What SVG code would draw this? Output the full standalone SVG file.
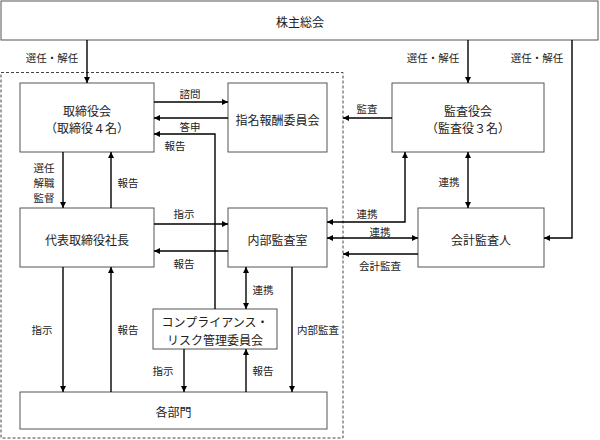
<svg xmlns="http://www.w3.org/2000/svg" width="600" height="440" viewBox="0 0 600 440">
<defs>
<marker id="ah" viewBox="0 0 10 10" refX="10" refY="5" markerWidth="6" markerHeight="6" markerUnits="userSpaceOnUse" orient="auto-start-reverse">
<path d="M0,0 L10,5 L0,10 z" fill="#000"/>
</marker>
<style>
.box{fill:#fff;stroke:#555;stroke-width:1}
.t{font-family:"Noto Sans CJK JP","Noto Sans CJK SC",sans-serif;font-size:12px;fill:#222;text-anchor:middle;dominant-baseline:central}
.l{font-family:"Noto Sans CJK JP","Noto Sans CJK SC",sans-serif;font-size:10.5px;fill:#222;text-anchor:middle;dominant-baseline:central}
.c{fill:none;stroke:#000;stroke-width:1.4}
.a{marker-end:url(#ah)}
.b{marker-start:url(#ah);marker-end:url(#ah)}
</style>
</defs>
<rect x="1" y="72.5" width="342" height="365.5" fill="none" stroke="#444" stroke-width="1" stroke-dasharray="3,2"/>
<g id="n-shareholders"><rect class="box" x="1" y="1" width="597" height="39"/><text class="t" x="300" y="21">株主総会</text></g>
<g id="n-board"><rect class="box" x="20" y="83" width="134" height="69"/><text class="t" x="87" y="110">取締役会</text><text class="t" x="87" y="127">（取締役４名）</text></g>
<g id="n-nomination"><rect class="box" x="228" y="83" width="99" height="69"/><text class="t" x="277.5" y="119">指名報酬委員会</text></g>
<g id="n-auditors"><rect class="box" x="392" y="83" width="152" height="69"/><text class="t" x="468" y="110">監査役会</text><text class="t" x="468" y="127">（監査役３名）</text></g>
<g id="n-president"><rect class="box" x="20" y="208" width="134" height="59"/><text class="t" x="87" y="239">代表取締役社長</text></g>
<g id="n-internal"><rect class="box" x="228" y="208" width="99" height="59"/><text class="t" x="277.5" y="239">内部監査室</text></g>
<g id="n-accountant"><rect class="box" x="418" y="208" width="126" height="59"/><text class="t" x="481" y="239">会計監査人</text></g>
<g id="n-compliance"><rect class="box" x="153" y="309" width="124" height="40"/><text class="t" x="215" y="321">コンプライアンス・</text><text class="t" x="215" y="339">リスク管理委員会</text></g>
<g id="n-depts"><rect class="box" x="20" y="392" width="307" height="37"/><text class="t" x="173.5" y="411">各部門</text></g>
<g id="connectors">
<path class="c a" d="M87,40 V83"/>
<path class="c a" d="M468,40 V83"/>
<path class="c a" d="M572,40 V238 H544"/>
<path class="c a" d="M154,102 H228"/>
<path class="c a" d="M228,118 H154"/>
<path class="c a" d="M215,309 V134 H154"/>
<path class="c a" d="M63,152 V208"/>
<path class="c a" d="M111,208 V152"/>
<path class="c a" d="M392,118 H343"/>
<path class="c b" d="M468,152 V208"/>
<path class="c a" d="M405,152 V222 H327" style="marker-start:url(#ah);marker-end:url(#ah)"/>
<path class="c b" d="M327,238 H418"/>
<path class="c a" d="M418,254 H343"/>
<path class="c a" d="M154,224 H228"/>
<path class="c a" d="M228,251 H154"/>
<path class="c b" d="M246,267 V309"/>
<path class="c a" d="M63,267 V392"/>
<path class="c a" d="M111,392 V267"/>
<path class="c a" d="M184,349 V392"/>
<path class="c a" d="M246,392 V349"/>
<path class="c a" d="M292,267 V392"/>
</g>
<g id="labels">
<text class="l" x="52" y="57">選任・解任</text>
<text class="l" x="433" y="57">選任・解任</text>
<text class="l" x="537" y="57">選任・解任</text>
<text class="l" x="190" y="93">諮問</text>
<text class="l" x="190" y="126">答申</text>
<text class="l" x="175" y="145">報告</text>
<text class="l" x="44" y="167">選任</text>
<text class="l" x="44" y="182">解職</text>
<text class="l" x="44" y="197">監督</text>
<text class="l" x="128" y="182">報告</text>
<text class="l" x="367" y="108">監査</text>
<text class="l" x="449" y="181">連携</text>
<text class="l" x="367" y="213">連携</text>
<text class="l" x="380" y="231">連携</text>
<text class="l" x="380" y="265">会計監査</text>
<text class="l" x="184" y="213">指示</text>
<text class="l" x="184" y="263">報告</text>
<text class="l" x="263" y="289">連携</text>
<text class="l" x="42" y="329">指示</text>
<text class="l" x="128" y="329">報告</text>
<text class="l" x="318" y="329">内部監査</text>
<text class="l" x="163" y="370">指示</text>
<text class="l" x="263" y="370">報告</text>
</g>
</svg>
